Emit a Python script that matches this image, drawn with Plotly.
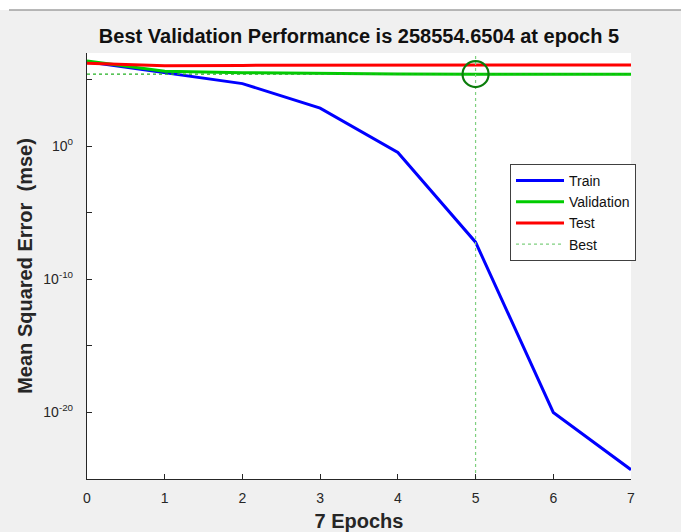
import plotly.graph_objects as go

# ---- data ----
epochs = [0, 1, 2, 3, 4, 5, 6, 7]
train_log10 = [6.34, 5.54, 4.70, 2.86, -0.47, -7.21, -20.0, -24.3]
val_log10 = [6.40, 5.63, 5.52, 5.45, 5.43, 5.4125, 5.41, 5.41]
test_log10 = [6.23, 6.04, 6.07, 6.09, 6.10, 6.10, 6.10, 6.10]
best_epoch = 5
best_perf = 258554.6504
y_log_range = [-25, 7]
x_tick_vals = [0, 1, 2, 3, 4, 5, 6, 7]
y_tick_vals = [1e-20, 1e-10, 1e0]
y_tick_text = ["10<sup>-20</sup>", "10<sup>-10</sup>", "10<sup>0</sup>"]
y_minor_vals = [1e-15, 1e-5, 1e5]

train = [10 ** v for v in train_log10]
val = [10 ** v for v in val_log10]
test = [10 ** v for v in test_log10]

FONT = "Liberation Sans, Arial, Helvetica, sans-serif"
AX = "#262626"

fig = go.Figure()
fig.add_trace(go.Scatter(x=epochs, y=train, mode="lines", name="Train",
                         line=dict(color="#0000ff", width=3)))
fig.add_trace(go.Scatter(x=epochs, y=val, mode="lines", name="Validation",
                         line=dict(color="#00cc00", width=3)))
fig.add_trace(go.Scatter(x=epochs, y=test, mode="lines", name="Test",
                         line=dict(color="#ff0000", width=3)))
# best: horizontal dotted line
fig.add_trace(go.Scatter(x=[epochs[0], epochs[-1]], y=[best_perf, best_perf], mode="lines",
                         showlegend=False, line=dict(color="#22b022", width=1.2, dash="dot")))
# best: vertical dotted line
fig.add_trace(go.Scatter(x=[best_epoch, best_epoch],
                         y=[10 ** y_log_range[0], 10 ** y_log_range[1]], mode="lines",
                         name="Best", line=dict(color="#7fd07f", width=1.2, dash="dot")))
fig.add_trace(go.Scatter(x=[best_epoch], y=[best_perf], mode="markers", showlegend=False,
                         marker=dict(symbol="circle-open", size=26, color="#0b7d0b",
                                     line=dict(width=2.2, color="#0b7d0b"))))

# window top strip
fig.add_shape(type="rect", xref="paper", yref="paper", x0=-0.3, x1=1.3,
              y0=(479 - 10) / 426, y1=1.3, fillcolor="white", line=dict(width=0), layer="below")
fig.add_shape(type="line", xref="paper", yref="paper", x0=(9 - 87) / 544, x1=1.3,
              y0=(479 - 10) / 426, y1=(479 - 10) / 426, line=dict(color="#a0a0a0", width=1.5))

fig.update_layout(
    width=681, height=532,
    margin=dict(l=87, r=50, t=53, b=53),
    paper_bgcolor="#f0f0f0", plot_bgcolor="white",
    font=dict(family=FONT, color=AX),
    title=dict(text="<b>Best Validation Performance is 258554.6504 at epoch 5</b>",
               x=0.5, xref="paper", xanchor="center",
               y=1 - 36 / 532, yref="container", yanchor="middle",
               font=dict(size=20, color="#111111", family=FONT)),
    xaxis=dict(range=[0, 7], tickvals=x_tick_vals, ticks="inside", ticklen=5, tickwidth=1,
               tickcolor=AX, showline=True, linecolor=AX, linewidth=1.3, mirror=False,
               showgrid=False, zeroline=False, tickfont=dict(size=14, color=AX),
               ticklabelstandoff=6,
               title=dict(text="<b>7 Epochs</b>", font=dict(size=20, color=AX), standoff=16),
               automargin=False),
    yaxis=dict(type="log", range=y_log_range, tickvals=y_tick_vals, ticktext=y_tick_text,
               ticks="inside", ticklen=5, tickwidth=1, tickcolor=AX,
               minor=dict(tickvals=y_minor_vals, ticks="inside", ticklen=5, tickcolor=AX),
               showline=True, linecolor=AX, linewidth=1.3, mirror=False,
               showgrid=False, zeroline=False, tickfont=dict(size=14, color=AX),
               ticklabelstandoff=10,
               title=dict(text="<b>Mean Squared Error\u00a0 (mse)</b>", font=dict(size=20, color=AX),
                          standoff=5),
               automargin=False),
    legend=dict(x=(510 - 87) / 544, y=(479 - 164) / 426, xanchor="left", yanchor="top",
                bgcolor="white", bordercolor="#404040", borderwidth=1,
                itemwidth=48,
                font=dict(size=14, color="#111111", family=FONT)),
    showlegend=True,
)

fig.write_html("out.html", config={"displayModeBar": False},
               post_script="document.body.style.margin='0';")
